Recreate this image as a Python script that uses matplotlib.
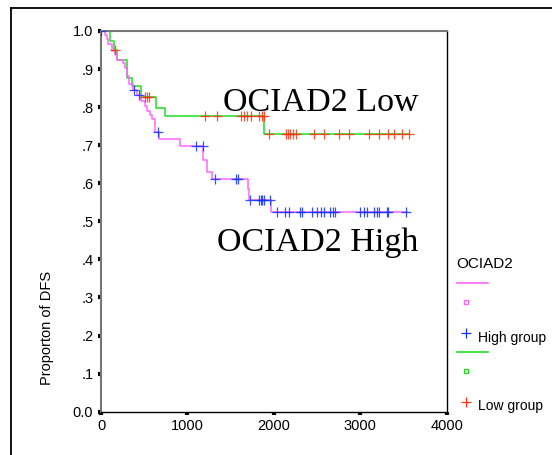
import numpy as np
import matplotlib
matplotlib.use("Agg")
import matplotlib.pyplot as plt
from matplotlib.lines import Line2D

# ---- data ----
high_step_t = [0, 46, 66, 85, 124, 162, 182, 258, 278, 297, 328, 370, 420, 459, 509, 536, 567, 586, 620, 671, 914, 1184, 1223, 1290, 1705, 1713, 1970]
high_step_s = [1.0, .99, .978, .965, .947, .939, .925, .917, .903, .881, .860, .845, .832, .816, .803, .79, .78, .768, .734, .717, .697, .661, .629, .612, .585, .555, .524]
high_end = 3540
high_cens = [0, 386, 443, 656, 1100, 1177, 1319, 1560, 1585, 1725, 1829, 1848, 1867, 1887, 1956,
             2040, 2130, 2175, 2303, 2325, 2446, 2505, 2545, 2580, 2650, 2680, 2710,
             2995, 3040, 3080, 3160, 3195, 3220, 3307, 3318, 3530]

low_step_t = [0, 104, 150, 182, 305, 355, 459, 633, 741, 1890]
low_step_s = [1.0, .975, .951, .925, .877, .855, .827, .798, .778, .729]
low_end = 3565
low_cens = [160, 509, 536, 559, 1204, 1339, 1617, 1655, 1694, 1733, 1832, 1860, 1887,
            1948, 2141, 2161, 2188, 2219, 2253, 2469, 2585, 2758, 2867, 3102, 3218, 3325, 3395, 3487, 3565]

x_ticks = [0, 1000, 2000, 3000, 4000]
x_labels = ["0", "1000", "2000", "3000", "4000"]
y_ticks = [0.0, .1, .2, .3, .4, .5, .6, .7, .8, .9, 1.0]
y_labels = ["0.0", ".1", ".2", ".3", ".4", ".5", ".6", ".7", ".8", ".9", "1.0"]

W, H = 552, 455
fig = plt.figure(figsize=(W / 100, H / 100), dpi=100)
ax = fig.add_axes([101 / W, 1 - 411.7 / H, 345.7 / W, 380.7 / H])

magenta = "#ff66ff"
green = "#22dd22"
blue = "#1133ff"
red = "#ff3311"


def step_val(ts, ss, c):
    i = np.searchsorted(ts, c, side="right") - 1
    return np.asarray(ss)[i]


def draw(ts, ss, end, cens, lc, mc):
    t = list(ts) + [end]
    s = list(ss) + [ss[-1]]
    ax.step(t, s, where="post", color=lc, lw=1.1, zorder=2)
    cv = [step_val(ts, ss, c) for c in cens]
    ax.plot(cens, cv, ls="none", marker="+", ms=6.5, mew=0.9, color=mc, alpha=0.85, zorder=3)


draw(low_step_t, low_step_s, low_end, low_cens, green, red)
draw(high_step_t, high_step_s, high_end, high_cens, magenta, blue)

ax.set_xlim(0, 4000)
ax.set_ylim(0, 1.0)
ax.set_xticks(x_ticks)
ax.set_xticklabels(x_labels)
ax.set_yticks(y_ticks)
ax.set_yticklabels(y_labels)
ax.tick_params(direction="out", length=2.5, width=3, color="black", labelsize=10.5, pad=3)
for lab in ax.get_xticklabels() + ax.get_yticklabels():
    lab.set_family("Liberation Sans")
for k in ["left", "top"]:
    ax.spines[k].set_color("#777777")
    ax.spines[k].set_linewidth(1.5)
for k in ["right", "bottom"]:
    ax.spines[k].set_color("black")
    ax.spines[k].set_linewidth(1.0)

fig.text(47 / W, 1 - 328 / H, "Proporton of DFS", rotation=90, ha="center", va="center",
         fontsize=10.5, family="Liberation Sans")

fig.text(321 / W, 1 - 103 / H, "OCIAD2 Low", ha="center", va="center", fontsize=24.5,
         family="Liberation Serif")
fig.text(318 / W, 1 - 243 / H, "OCIAD2 High", ha="center", va="center", fontsize=24.5,
         family="Liberation Serif")


def fx(p):
    return p / W


def fy(p):
    return 1 - p / H


# legend (manual)
fig.text(fx(456), fy(264), "OCIAD2", ha="left", va="center", fontsize=11, family="Liberation Sans")
fig.add_artist(Line2D([fx(457), fx(488)], [fy(283), fy(283)], color=magenta, lw=1.2))
fig.add_artist(Line2D([fx(466)], [fy(302)], marker="s", ms=3.5, mfc="none", mec=magenta, mew=1, ls="none"))
fig.add_artist(Line2D([fx(466)], [fy(333)], marker="+", ms=6.5, mew=0.9, color=blue, ls="none"))
fig.text(fx(478), fy(338), "High group", ha="left", va="center", fontsize=10, family="Liberation Sans")
fig.add_artist(Line2D([fx(457), fx(488)], [fy(352), fy(352)], color=green, lw=1.2))
fig.add_artist(Line2D([fx(466)], [fy(371)], marker="s", ms=3.5, mfc="none", mec=green, mew=1, ls="none"))
fig.add_artist(Line2D([fx(466)], [fy(402)], marker="+", ms=6.5, mew=0.9, color=red, ls="none"))
fig.text(fx(478), fy(406), "Low group", ha="left", va="center", fontsize=10, family="Liberation Sans")

# outer frame lines
fig.add_artist(Line2D([fx(10.5), fx(10.5)], [fy(8), fy(455)], color="black", lw=1.3))
fig.add_artist(Line2D([fx(10.5), fx(552)], [fy(8), fy(8)], color="black", lw=1.3))

fig.savefig("out.png", dpi=100)
